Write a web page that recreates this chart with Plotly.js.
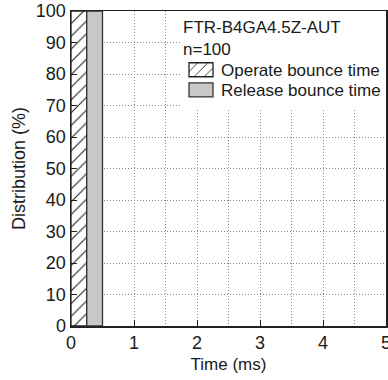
<!DOCTYPE html>
<html><head><meta charset="utf-8">
<script src="https://cdn.plot.ly/plotly-3.0.1.min.js"></script>
<style>html,body{margin:0;padding:0;background:#fff}</style>
</head><body><div id="chart" style="width:388px;height:380px"></div>
<script>
// Data
const seriesNames = ["Operate bounce time", "Release bounce time"];
const operateBinCenters = [0.125];
const operateValues = [100];
const releaseBinCenters = [0.375];
const releaseValues = [100];
const binWidth = 0.25;
const xTicks = [0, 1, 2, 3, 4, 5];
const yTicks = [0, 10, 20, 30, 40, 50, 60, 70, 80, 90, 100];
const legendTitle = "FTR-B4GA4.5Z-AUT<br>n=100";

const traces = [
  {type:'bar', name:seriesNames[0], x:operateBinCenters, y:operateValues, width:binWidth,
   marker:{color:'white', line:{color:'#222', width:1.3},
     pattern:{shape:'/', fgcolor:'#222', bgcolor:'white', size:9, solidity:0.12}}},
  {type:'bar', name:seriesNames[1], x:releaseBinCenters, y:releaseValues, width:binWidth,
   marker:{color:'#c8c8c8', line:{color:'#333', width:1.3}}}
];
const font = {family:'"Liberation Sans", Arial, sans-serif', color:'#1a1a1a'};
const grid = {showgrid:true, gridcolor:'#8a8a8a', griddash:'1px,2px', gridwidth:1, zeroline:false};
const layout = {
  width:388, height:380,
  margin:{l:71, r:2, t:11, b:54},
  paper_bgcolor:'white', plot_bgcolor:'white',
  font:font, barmode:'overlay', showlegend:true,
  xaxis:Object.assign({range:[0,5], tickvals:xTicks, ticktext:xTicks.map(String), ticks:'inside', ticklen:6,
    tickcolor:'#222', tickfont:{size:18}, ticklabeloverflow:'allow', showline:true, mirror:true,
    linecolor:'#222', linewidth:1.5,
    minor:{dtick:0.5, tick0:0, showgrid:true, gridcolor:'#8a8a8a', griddash:'1px,2px', gridwidth:1, ticks:''},
    title:{text:'Time (ms)', font:{size:17}, standoff:6}}, grid),
  yaxis:Object.assign({range:[0,100], tickvals:yTicks, ticktext:yTicks.map(String), ticks:'inside', ticklen:6,
    tickcolor:'#222', tickfont:{size:18}, showline:true, mirror:true, linecolor:'#222', linewidth:1.5,
    title:{text:'Distribution (%)', font:{size:18}, standoff:5}}, grid),
  legend:{x:1, xanchor:'right', y:1, yanchor:'top', bgcolor:'white', borderwidth:0,
    font:{size:17}, title:{text:legendTitle, font:{size:17}}, itemwidth:30, tracegroupgap:0}
};
Plotly.newPlot('chart', traces, layout, {displayModeBar:false, staticPlot:true}).then(function(){
  document.querySelectorAll('.legend .legendpoints path').forEach(function(p){
    p.setAttribute('d','M12,7H-12V-7H12Z');
  });
  const shifts = [-3, -8];
  document.querySelectorAll('.legend g.traces').forEach(function(g, i){
    const t = g.getAttribute('transform') || '';
    const m = t.match(/translate\(([-\d.]+)[ ,]+([-\d.]+)\)/);
    if (m && shifts[i] !== undefined) {
      g.setAttribute('transform', 'translate(' + m[1] + ',' + (parseFloat(m[2]) + shifts[i]) + ')');
    }
  });
  const bg = document.querySelector('.legend rect.bg');
  if (bg) { const h = parseFloat(bg.getAttribute('height')); bg.setAttribute('height', h - 8); }
});
</script></body></html>
